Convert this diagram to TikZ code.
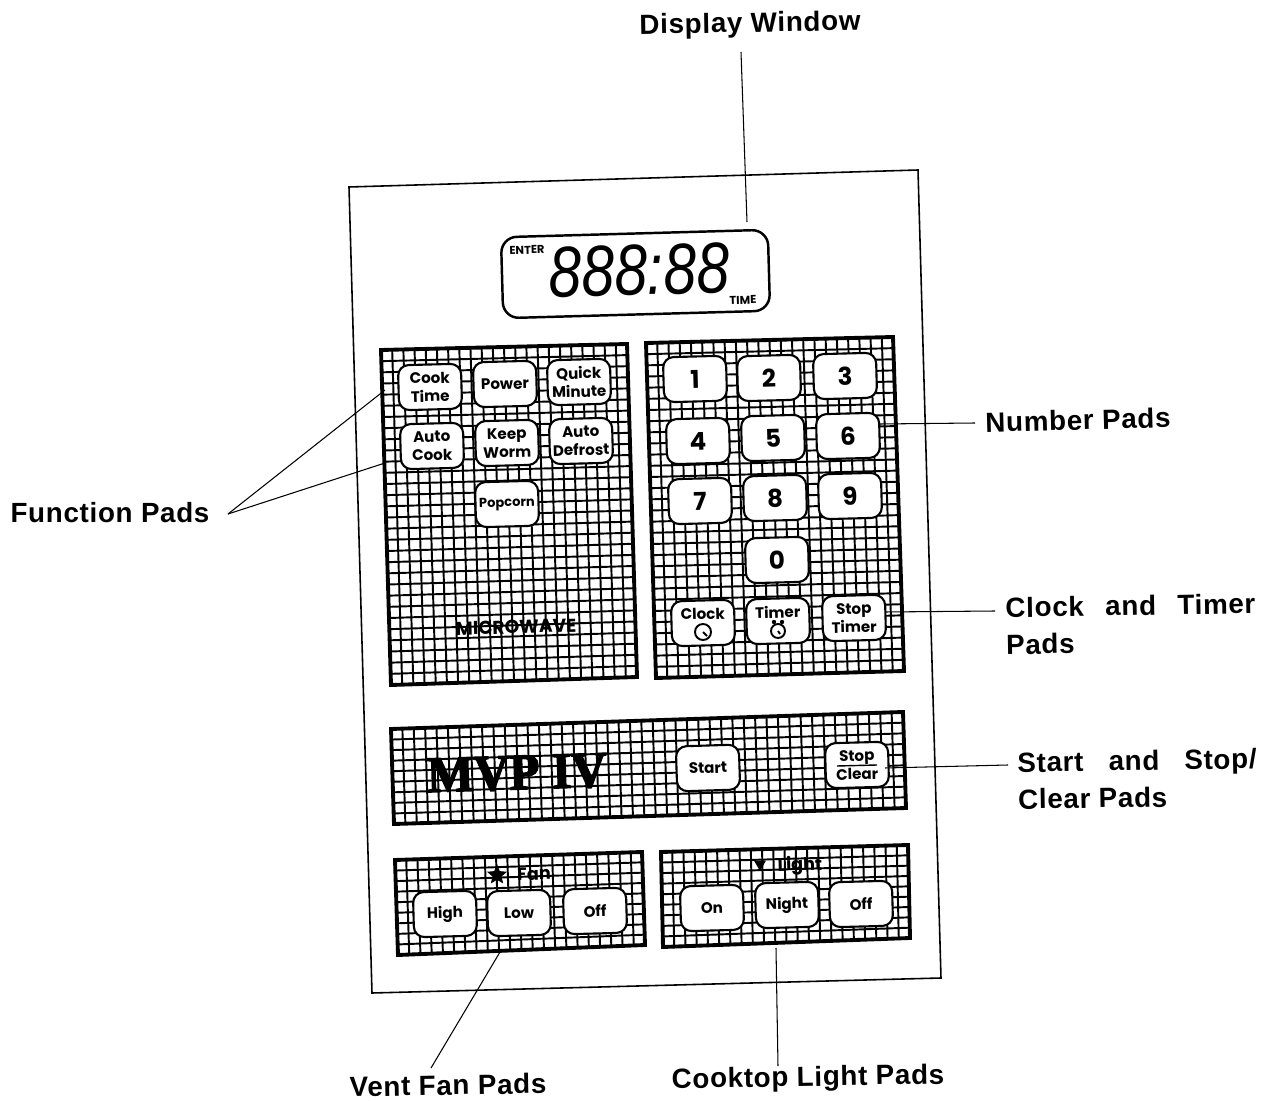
\documentclass[tikz,border=0pt]{standalone}
\usepackage{fontspec}
\usetikzlibrary{shapes.geometric, calc}
\setmainfont{Liberation Sans}
\newfontfamily\keyfont{Poppins}
\newfontfamily\calloutfont[LetterSpace=2.5]{Liberation Sans}
\newfontfamily\brandfont[BoldFeatures={FakeBold=3}]{Liberation Serif}
\tikzset{
  gridline/.style={line width=1.1pt, black},
  padedge/.style={line width=2.2pt, black, line join=miter},
  leader/.style={line width=0.6pt, black},
  callout/.style={font=\calloutfont\bfseries\fontsize{15.8}{21}\selectfont, inner sep=0pt, align=left},
  padkey/.style={draw, fill=white, line width=1.2pt, rounded corners=6pt, minimum width=1.26cm,
    minimum height=0.9cm, inner sep=0pt, align=center, rotate=1.5,
    font=\keyfont\bfseries\fontsize{8.6}{10.5}\selectfont},
  numkey/.style={padkey, font=\keyfont\bfseries\fontsize{14}{16}\selectfont},
  smallword/.style={font=\keyfont\bfseries\fontsize{6.5}{7}\selectfont, inner sep=0pt, rotate=1.6},
  panelword/.style={font=\keyfont\bfseries\fontsize{10}{11}\selectfont, inner sep=0pt, rotate=1.5},
  icon/.style={line width=1.1pt, black}
}
% one hatched panel: corners clockwise from top left, then columns and rows
\newcommand{\padgrid}[7]{
  \coordinate (#1tl) at (#2);
  \coordinate (#1tr) at (#3);
  \coordinate (#1br) at (#4);
  \coordinate (#1bl) at (#5);
  \foreach \i in {1,...,#6} {
    \pgfmathsetmacro\t{\i/#6}
    \draw[gridline] ($(#1tl)!\t!(#1tr)$) -- ($(#1bl)!\t!(#1br)$);
  }
  \foreach \j in {1,...,#7} {
    \pgfmathsetmacro\t{\j/#7}
    \draw[gridline] ($(#1tl)!\t!(#1bl)$) -- ($(#1tr)!\t!(#1br)$);
  }
  \draw[padedge] (#1tl) -- (#1tr) -- (#1br) -- (#1bl) -- cycle;
}
\begin{document}
\begin{tikzpicture}[x=0.02cm, y=-0.02cm]
  \useasboundingbox (0,0) rectangle (1262,1101);

  % front plate
  \draw[line width=0.9pt] (349,187) -- (918,170) -- (941,978) -- (372,993) -- cycle;

  % display window
  \node[draw, line width=1.4pt, rounded corners=9pt, minimum width=5.34cm, minimum height=1.62cm, rotate=1.6] (display) at (635.5,274) {};
  \node[smallword] (enter) at (527,250) {ENTER};
  \node[smallword] (timeword) at (743,300) {TIME};
  \node[font=\fontsize{41}{41}\selectfont\itshape, inner sep=0pt, rotate=1.6, xscale=0.82, transform shape] (digits) at (639,270) {888:88};

  % hatched panels
  \padgrid{fun}{381,350}{627,344}{637,677}{391,685}{22}{30}
  \padgrid{num}{646,343}{893,337}{904,671}{656,678}{22}{30}
  \padgrid{bar}{391,729}{903,712}{906,808}{394,824}{45}{9}
  \padgrid{fan}{395,860}{642,852}{645,945}{398,955}{22}{9}
  \padgrid{lit}{661,852}{908,845}{910,938}{663,947}{22}{9}

  % function pads
  \node[padkey] (cook) at (430,387) {Cook\\Time};
  \node[padkey] (power) at (505,384) {Power};
  \node[padkey] (quick) at (579,382) {Quick\\Minute};
  \node[padkey] (auto) at (432,446) {Auto\\Cook};
  \node[padkey] (keep) at (507,443) {Keep\\Worm};
  \node[padkey] (defrost) at (581,441) {Auto\\Defrost};
  \node[padkey, font=\keyfont\bfseries\fontsize{7.4}{9}\selectfont] (popcorn) at (507,504) {Popcorn};
  \node[font=\keyfont\bfseries\fontsize{10.6}{11}\selectfont, inner sep=0pt, rotate=1.5] (micro) at (516,627) {MICROWAVE};

  % number pads
  \foreach \lab/\px/\py in {1/695/379, 2/769/378, 3/845/376, 4/698/441, 5/773/438, 6/848/436, 7/700/501, 8/775/498, 9/850/496, 0/777/560} {
    \node[numkey] (key\lab) at (\px,\py) {\lab};
  }

  % clock and timer pads
  \node[padkey] (clock) at (703,623) {Clock\\\phantom{X}};
  \node[padkey] (timer) at (778,621) {Timer\\\phantom{X}};
  \node[padkey] (stoptimer) at (854,618) {Stop\\Timer};
  \draw[icon] ($(clock.center)+(0,9)$) circle (8);
  \draw[icon] ($(clock.center)+(0,9)$) -- ++(4,4);
  \draw[icon] ($(timer.center)+(0,10)$) circle (7);
  \draw[icon] ($(timer.center)+(0,10)$) -- ++(2,3);
  \fill ($(timer.center)+(-4,1)$) circle (2.2);
  \fill ($(timer.center)+(4,1)$) circle (2.2);

  % brand and start row
  \node[font=\brandfont\bfseries\fontsize{29}{29}\selectfont, inner sep=0pt, rotate=1.8, xscale=0.97, transform shape] (brand) at (517,773) {MVP IV};
  \node[padkey, rotate=0.3] (start) at (708,768) {Start};
  \node[padkey] (stopclear) at (857,765) {Stop\\Clear};
  \draw[line width=0.8pt] ($(stopclear.center)+(-20,1)$) -- ($(stopclear.center)+(20,0)$);

  % vent fan pads
  \node[star, star points=5, star point ratio=2.2, fill=black, minimum size=0.42cm, inner sep=0pt] (fanmark) at (497,875) {};
  \node[panelword] (fanword) at (534,874) {Fan};
  \node[padkey] (high) at (445,914) {High};
  \node[padkey] (low) at (519,913) {Low};
  \node[padkey] (fanoff) at (595,911) {Off};

  % cooktop light pads
  \node[regular polygon, regular polygon sides=3, shape border rotate=180, fill=black, minimum size=0.28cm, inner sep=0pt] (litmark) at (760,864) {};
  \node[panelword] (litword) at (800,866) {Light};
  \node[padkey] (on) at (712,908) {On};
  \node[padkey] (night) at (787,905) {Night};
  \node[padkey] (litoff) at (861,904) {Off};

  % callouts
  \node[callout, rotate=1] (displaylab) at (750,25) {Display Window};
  \node[callout, rotate=1.5] (numberlab) at (1078,420) {Number Pads};
  \node[callout] (functionlab) at (110,513) {Function Pads};
  \node[callout, rotate=1, anchor=north west] (clocklab) at (1005,597) {Clock\hspace{0.47em} and\hspace{0.47em} Timer\\Pads};
  \node[callout, rotate=1, anchor=north west] (startlab) at (1017,752) {Start\hspace{0.6em} and\hspace{0.6em} Stop/\\Clear Pads};
  \node[callout, rotate=1] (ventlab) at (448,1085) {Vent Fan Pads};
  \node[callout, rotate=1] (cooktoplab) at (808,1079) {Cooktop Light Pads};

  % leader ends
  \coordinate (fnend1) at (385,390);
  \coordinate (fnend2) at (385,463);
  \coordinate (dispend) at (747,222);
  \coordinate (ventend) at (500,952);
  \coordinate (litend) at (776,948);
  \coordinate (numend) at (880,424);
  \coordinate (clockend) at (885,612);
  \coordinate (startend) at (885,768);
  \coordinate (displabend) at (741,52);
  \coordinate (functionend) at (228,514);
  \coordinate (ventlabend) at (431,1068);
  \coordinate (litlabend) at (778,1066);
  \coordinate (numlabend) at (975,423);
  \coordinate (clocklabend) at (995,611);
  \coordinate (startlabend) at (1008,765);

  % leaders
  \draw[leader] (displabend) -- (dispend);
  \draw[leader] (functionend) -- (fnend1);
  \draw[leader] (functionend) -- (fnend2);
  \draw[leader] (numlabend) -- (numend);
  \draw[leader] (clocklabend) -- (clockend);
  \draw[leader] (startlabend) -- (startend);
  \draw[leader] (ventlabend) -- (ventend);
  \draw[leader] (litlabend) -- (litend);
\end{tikzpicture}
\end{document}
